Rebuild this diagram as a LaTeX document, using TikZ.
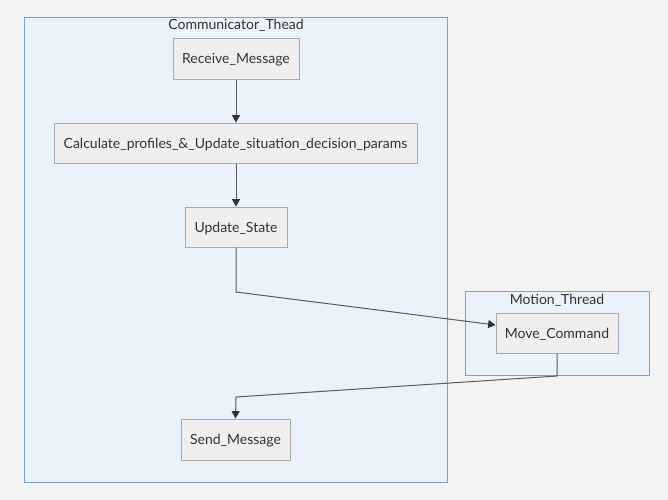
\documentclass[tikz,border=0pt]{standalone}
\usepackage{fontspec}
\setmainfont{Lato}
\usetikzlibrary{arrows.meta}
\definecolor{bgc}{RGB}{243,243,243}
\definecolor{clfill}{RGB}{234,242,251}
\definecolor{cldraw}{RGB}{126,160,206}
\definecolor{ndfill}{RGB}{239,239,239}
\definecolor{nddraw}{RGB}{170,170,170}
\definecolor{edgec}{RGB}{90,90,90}
\definecolor{txtc}{RGB}{51,51,51}
\tikzset{
  cluster/.style={draw=cldraw, fill=clfill, line width=0.75pt},
  procbox/.style={draw=nddraw, fill=ndfill, line width=0.75pt, text=txtc,
    font=\fontsize{10.5pt}{12pt}\selectfont, inner sep=0pt, anchor=center,
    text height=9.1pt, text depth=0.9pt},
  cltitle/.style={text=txtc, font=\fontsize{10.5pt}{12pt}\selectfont, inner sep=0pt,
    text height=9.1pt, text depth=0.9pt},
  edge/.style={draw=edgec, line width=0.75pt, -{Triangle[length=5.5pt,width=6pt,color=black!80]}}
}
\begin{document}
\begin{tikzpicture}[x=0.75pt,y=-0.75pt]
\fill[bgc] (0,0) rectangle (668,500);
\useasboundingbox (0,0) rectangle (668,500);
% clusters
\draw[cluster] (24,17) rectangle (447,482);
\node[cltitle] (ct) at (236,24.5) {Communicator\_Thead};
\draw[cluster] (465,291) rectangle (649,375);
\node[cltitle] (mt) at (557,299) {Motion\_Thread};
% nodes
\node[procbox, minimum width=126*0.75pt, minimum height=41*0.75pt] (rm) at (236,58.5) {Receive\_Message};
\node[procbox, minimum width=363*0.75pt, minimum height=40*0.75pt] (calc) at (235.5,143) {Calculate\_profiles\_\&\_Update\_situation\_decision\_params};
\node[procbox, minimum width=102*0.75pt, minimum height=40*0.75pt] (us) at (236,227) {Update\_State};
\node[procbox, minimum width=122*0.75pt, minimum height=40*0.75pt] (mc) at (557,333) {Move\_Command};
\node[procbox, minimum width=109*0.75pt, minimum height=41*0.75pt] (sm) at (235.5,439.5) {Send\_Message};
% edges
\coordinate (b1) at (236,292);
\coordinate (b2) at (557,376);
\coordinate (b3) at (236,397);
\draw[edge] (rm.south) -- (rm.south |- calc.north);
\draw[edge] (calc.south -| us.south) -- (us.north);
\draw[edge] (us.south) -- (b1) -- (mc.west |- 0,325);
\draw[edge] (mc.south) -- (b2) -- (b3) -- (sm.north);
\end{tikzpicture}
\end{document}
